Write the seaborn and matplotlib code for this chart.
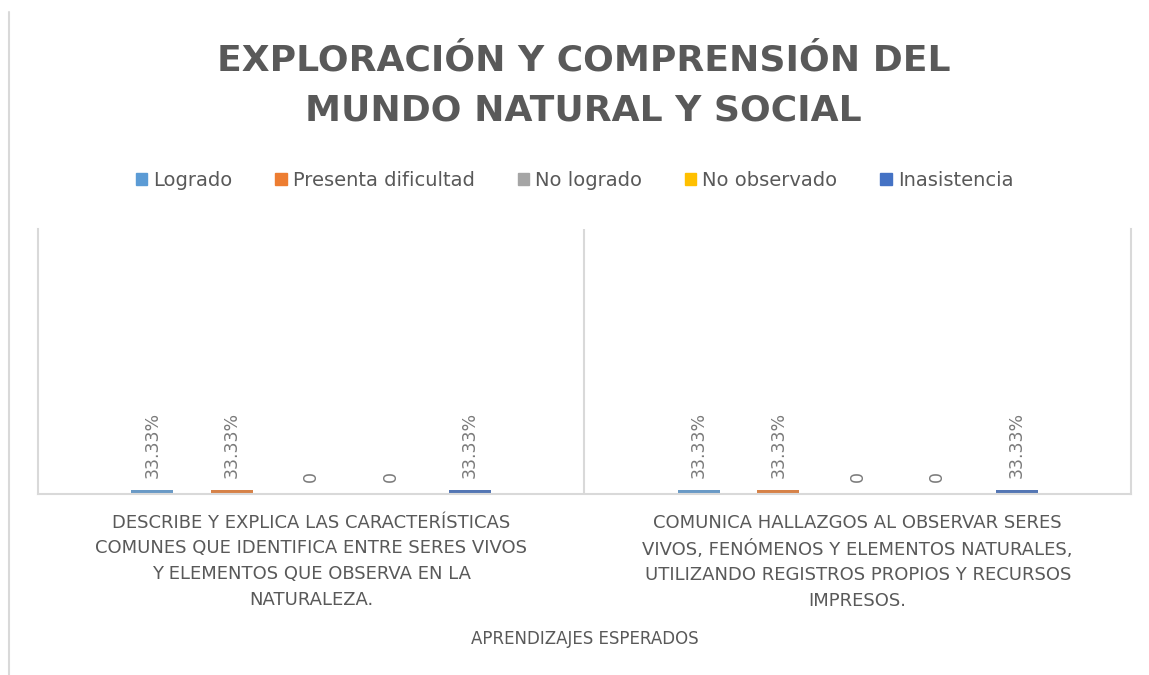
import matplotlib
matplotlib.use('Agg')
import matplotlib.pyplot as plt
import seaborn as sns
import pandas as pd
from matplotlib.lines import Line2D

aprendizajes = ['DESCRIBE Y EXPLICA LAS CARACTERÍSTICAS\nCOMUNES QUE IDENTIFICA ENTRE SERES VIVOS\nY ELEMENTOS QUE OBSERVA EN LA\nNATURALEZA.',
                'COMUNICA HALLAZGOS AL OBSERVAR SERES\nVIVOS, FENÓMENOS Y ELEMENTOS NATURALES,\nUTILIZANDO REGISTROS PROPIOS Y RECURSOS\nIMPRESOS.']
niveles = ['Logrado', 'Presenta dificultad', 'No logrado', 'No observado', 'Inasistencia']
logrado = [0.3333, 0.3333]
presenta_dificultad = [0.3333, 0.3333]
no_logrado = [0, 0]
no_observado = [0, 0]
inasistencia = [0.3333, 0.3333]
colores = ['#5B9BD5', '#ED7D31', '#A5A5A5', '#FFC000', '#4472C4']

series = [logrado, presenta_dificultad, no_logrado, no_observado, inasistencia]
rows = []
for nivel, vals in zip(niveles, series):
    for a, v in zip(aprendizajes, vals):
        rows.append({'aprendizaje': a, 'nivel': nivel, 'valor': v})
df = pd.DataFrame(rows)

sns.set_style('white')
plt.rcParams['font.family'] = ['DejaVu Sans']
gris = '#595959'

fig = plt.figure(figsize=(11.49, 6.75), dpi=100)
ax = fig.add_axes([0.0331, 0.268, 0.9512, 0.393])

sns.barplot(data=df, x='aprendizaje', y='valor', hue='nivel', hue_order=niveles,
            palette=colores, width=0.727, gap=0.47, ax=ax, legend=False,
            edgecolor='none', linewidth=0)

for cont in ax.containers:
    labels = ['{:.2f}%'.format(v * 100) if v > 0 else '0' for v in cont.datavalues]
    ax.bar_label(cont, labels=labels, rotation=90, padding=9, fontsize=12.5, color='#7a7a7a')

ax.set_ylim(0, 22)
ax.set_xlim(-0.5, 1.5)
ax.set_yticks([])
ax.set_ylabel('')
ax.set_xlabel('APRENDIZAJES ESPERADOS', fontsize=12, color=gris, labelpad=14)
ax.tick_params(axis='x', length=0, pad=14, labelsize=13, labelcolor=gris)
for lab in ax.get_xticklabels():
    lab.set_linespacing(1.55)
ax.axvline(0.5, color='#d9d9d9', lw=1.5)
for s in ['left', 'right', 'bottom']:
    ax.spines[s].set_color('#d9d9d9')
    ax.spines[s].set_linewidth(1.5)
ax.spines['top'].set_visible(False)

handles = [plt.Rectangle((0, 0), 1, 1, color=c) for c in colores]
fig.legend(handles, niveles, loc='center', bbox_to_anchor=(0.5, 0.733), ncol=5,
           frameon=False, fontsize=14, labelcolor=gris, handlelength=0.6,
           handleheight=0.6, handletextpad=0.3, columnspacing=2.2)

fig.text(0.508, 0.873, 'EXPLORACIÓN Y COMPRENSIÓN DEL\nMUNDO NATURAL Y SOCIAL', ha='center', va='center',
         fontsize=26, fontweight='bold', color=gris, linespacing=1.6)

fig.add_artist(Line2D([0.008, 0.008], [0.0, 0.982], color='#d9d9d9', lw=1.5))

fig.savefig('out.png', dpi=100)
